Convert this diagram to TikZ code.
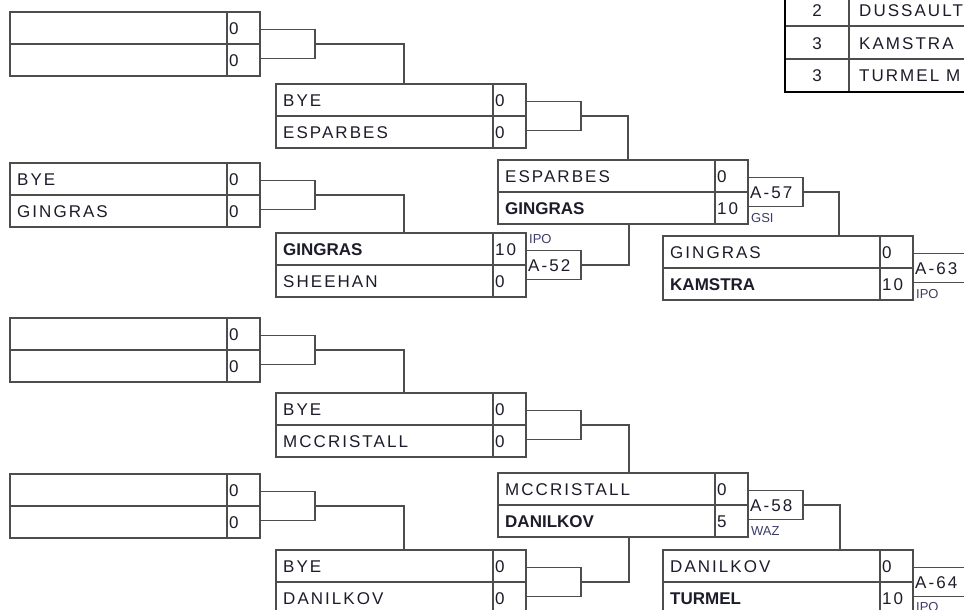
\documentclass[tikz,border=0pt]{standalone}
\usepackage{fontspec}
\setmainfont{Liberation Sans}
\newfontfamily\spacedfont[LetterSpace=12]{Liberation Sans}
\usetikzlibrary{calc}
\definecolor{ln}{HTML}{4D4D4D}
\definecolor{txt}{HTML}{1C1C2A}
\definecolor{lbl}{HTML}{3C3C66}
\newcommand{\win}[1]{{\normalfont\bfseries #1}}
\tikzset{
  mbox/.style={draw=ln, line width=1.4pt, anchor=north west, minimum width=250pt,
    minimum height=64pt, inner sep=0pt, outer sep=0pt},
  cbox/.style={draw=ln, line width=1.4pt, anchor=west, minimum width=55pt,
    minimum height=29pt, inner sep=0pt, outer sep=0pt},
  ln/.style={draw=ln, line width=1.4pt},
  nm/.style={anchor=west, inner sep=0pt, text=txt, text height=12.2pt, text depth=0pt,
    font=\spacedfont\fontsize{17}{20}\selectfont},
  lab/.style={inner sep=0pt, text=lbl, text height=9.3pt, text depth=0pt,
    font=\fontsize{13}{15}\selectfont},
}
% name, x, y, top name, top score, bottom name, bottom score
\newcommand{\matchbox}[7]{%
  \node[mbox] (#1) at (#2,#3) {};
  \draw[ln] (#1.west) -- (#1.east);
  \draw[ln] ([xshift=-33pt]#1.north east) -- ([xshift=-33pt]#1.south east);
  \node[nm] (#1tn) at ([xshift=7pt,yshift=16pt]#1.west) {#4};
  \node[nm] (#1ts) at ([xshift=-31pt,yshift=16pt]#1.east) {#5};
  \node[nm] (#1bn) at ([xshift=7pt,yshift=-16pt]#1.west) {#6};
  \node[nm] (#1bs) at ([xshift=-31pt,yshift=-16pt]#1.east) {#7};
}
\begin{document}
\begin{tikzpicture}[x=1pt,y=-1pt]
\useasboundingbox (0,0) rectangle (964,610);
\clip (0,0) rectangle (964,610);

% match boxes
\matchbox{A1}{10}{12}{}{0}{}{0}
\matchbox{A2}{276}{84}{BYE}{0}{ESPARBES}{0}
\matchbox{B1}{10}{163}{BYE}{0}{GINGRAS}{0}
\matchbox{B2}{276}{233}{\win{GINGRAS}}{10}{SHEEHAN}{0}
\matchbox{R3a}{498}{160}{ESPARBES}{0}{\win{GINGRAS}}{10}
\matchbox{R4a}{663}{236}{GINGRAS}{0}{\win{KAMSTRA}}{10}
\matchbox{C1}{10}{318}{}{0}{}{0}
\matchbox{C2}{276}{393}{BYE}{0}{MCCRISTALL}{0}
\matchbox{D1}{10}{474}{}{0}{}{0}
\matchbox{D2}{276}{550}{BYE}{0}{DANILKOV}{0}
\matchbox{R3b}{498}{473}{MCCRISTALL}{0}{\win{DANILKOV}}{5}
\matchbox{R4b}{663}{550}{DANILKOV}{0}{\win{TURMEL}}{10}

% connector boxes
\node[cbox] (cA1) at (A1.east) {};
\node[cbox] (cB1) at (B1.east) {};
\node[cbox] (cA2) at (A2.east) {};
\node[cbox] (cB2) at (B2.east) {};
\node[cbox] (cR3a) at (R3a.east) {};
\node[cbox] (cR4a) at (R4a.east) {};
\node[cbox] (cC1) at (C1.east) {};
\node[cbox] (cD1) at (D1.east) {};
\node[cbox] (cC2) at (C2.east) {};
\node[cbox] (cD2) at (D2.east) {};
\node[cbox] (cR3b) at (R3b.east) {};
\node[cbox] (cR4b) at (R4b.east) {};

% match codes
\node[nm] (kB2) at ([xshift=2pt]cB2.west) {A-52};
\node[nm] (kR3a) at ([xshift=2pt]cR3a.west) {A-57};
\node[nm] (kR4a) at ([xshift=2pt]cR4a.west) {A-63};
\node[nm] (kR3b) at ([xshift=2pt]cR3b.west) {A-58};
\node[nm] (kR4b) at ([xshift=2pt]cR4b.west) {A-64};

% small labels
\node[lab, anchor=south west] (lB2) at ([xshift=3pt,yshift=7pt]cB2.north west) {IPO};
\node[lab, anchor=north west] (lR3a) at ([xshift=3pt,yshift=-6pt]cR3a.south west) {GSI};
\node[lab, anchor=north west] (lR4a) at ([xshift=3pt,yshift=-6pt]cR4a.south west) {IPO};
\node[lab, anchor=north west] (lR3b) at ([xshift=3pt,yshift=-6pt]cR3b.south west) {WAZ};
\node[lab, anchor=north west] (lR4b) at ([xshift=3pt,yshift=-5pt]cR4b.south west) {IPO};

% bracket lines
\draw[ln] (cA1.east) -| ([xshift=128pt]A2.north west);
\draw[ln] (cB1.east) -| ([xshift=128pt]B2.north west);
\draw[ln] (cA2.east) -| ([xshift=130pt]R3a.north west);
\draw[ln] (cB2.east) -| ([xshift=131pt]R3a.south west);
\draw[ln] (cR3a.east) -| ([xshift=176pt]R4a.north west);
\draw[ln] (cC1.east) -| ([xshift=128pt]C2.north west);
\draw[ln] (cD1.east) -| ([xshift=128pt]D2.north west);
\draw[ln] (cC2.east) -| ([xshift=131pt]R3b.north west);
\draw[ln] (cD2.east) -| ([xshift=131pt]R3b.south west);
\draw[ln] (cR3b.east) -| ([xshift=177pt]R4b.north west);

% ranking table
\draw[ln] (849,-5) -- (849,92);
\draw[ln] (785,26) -- (970,26);
\draw[ln] (785,59) -- (970,59);
\draw[black, line width=2.6pt] (785,-5) -- (785,92) -- (970,92);
\node[nm, anchor=center] (r1) at (817,10) {2};
\node[nm] (n1) at (859,10) {DUSSAULT};
\node[nm, anchor=center] (r2) at (817,43) {3};
\node[nm] (n2) at (859,43) {KAMSTRA};
\node[nm, anchor=center] (r3) at (817,75) {3};
\node[nm] (n3) at (859,75) {TURMEL M};
\end{tikzpicture}
\end{document}
